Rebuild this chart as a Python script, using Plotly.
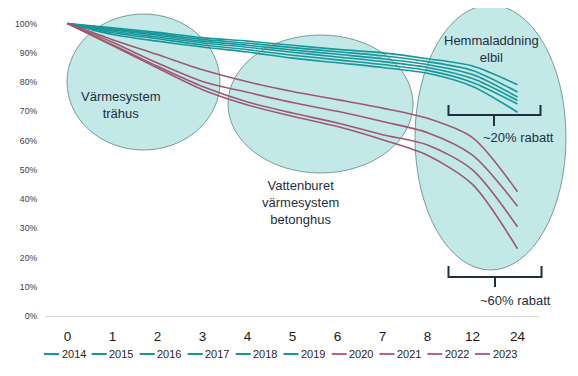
import plotly.graph_objects as go

# ---- data ----
x_labels = ["0", "1", "2", "3", "4", "5", "6", "7", "8", "12", "24"]
years = ["2014", "2015", "2016", "2017", "2018", "2019", "2020", "2021", "2022", "2023"]

v2014 = [100, 98.6, 97.0, 95.2, 94.0, 92.6, 91.2, 90.0, 88.0, 85.5, 79.1]
v2015 = [100, 98.2, 96.5, 94.6, 93.3, 91.8, 90.4, 89.0, 87.0, 84.0, 76.6]
v2016 = [100, 97.8, 96.0, 94.0, 92.6, 91.0, 89.5, 88.0, 86.0, 82.6, 74.9]
v2017 = [100, 97.4, 95.4, 93.4, 91.9, 90.2, 88.6, 87.0, 85.0, 81.2, 73.7]
v2018 = [100, 96.9, 94.8, 92.7, 91.1, 89.2, 87.6, 86.0, 84.0, 79.9, 72.5]
v2019 = [100, 96.3, 94.0, 92.0, 90.3, 88.2, 86.6, 85.0, 83.0, 78.5, 69.7]
v2020 = [100, 94.5, 89.4, 84.2, 80.1, 76.8, 74.0, 71.1, 67.6, 61.0, 42.5]
v2021 = [100, 93.6, 86.5, 80.2, 76.5, 73.0, 70.0, 66.5, 62.7, 55.0, 37.5]
v2022 = [100, 92.8, 85.4, 78.5, 73.2, 69.4, 66.0, 62.0, 58.5, 50.0, 30.5]
v2023 = [100, 92.5, 84.8, 77.4, 72.2, 68.3, 64.8, 60.3, 55.0, 45.0, 23.0]
series = [v2014, v2015, v2016, v2017, v2018, v2019, v2020, v2021, v2022, v2023]

y_ticks = [0, 10, 20, 30, 40, 50, 60, 70, 80, 90, 100]

TEAL = "#17979a"
MAUVE_LINE = "#9e5870"
MAUVE_LEG = "#c0607c"
TEXT = "#1f2f40"
FONT = "Liberation Sans, Arial, sans-serif"

OFF = 8  # page body margin
W, H = 570, 368
ML, MR, MT, MB = 37, 38, 1, 60
PW, PH = W - ML - MR, H - MT - MB


def px(x):
    return (x - OFF - ML) / PW


def py(y):
    return (H - MB - (y - OFF)) / PH


fig = go.Figure()
for name, vals in zip(years, series):
    col = TEAL if int(name) < 2020 else MAUVE_LINE
    fig.add_trace(go.Scatter(
        x=x_labels, y=vals, mode="lines", name=name, showlegend=False,
        line=dict(color=col, width=1.6, shape="spline", smoothing=0.8),
    ))

shapes = []
# ellipses (decoration)
for (x0, y0, x1, y1) in [(67, 14, 220, 150), (228, 35, 413, 173), (415, 5, 566, 270)]:
    shapes.append(dict(type="circle", xref="paper", yref="paper",
                       x0=px(x0), x1=px(x1), y0=py(y1), y1=py(y0),
                       fillcolor="#c3e8e8", line=dict(color="#5e8486", width=0.8),
                       layer="below"))


def brace(xl, xr, ytop, ybot, xm, ytip):
    return (f"M {px(xl)},{py(ytop)} L {px(xl)},{py(ybot)} L {px(xr)},{py(ybot)} "
            f"L {px(xr)},{py(ytop)} M {px(xm)},{py(ybot)} L {px(xm)},{py(ytip)}")


shapes.append(dict(type="path", xref="paper", yref="paper",
                   path=brace(448.5, 540.5, 105, 115, 494, 126),
                   line=dict(color=TEXT, width=2)))
shapes.append(dict(type="path", xref="paper", yref="paper",
                   path=brace(448.5, 541.5, 266, 277, 495, 287),
                   line=dict(color=TEXT, width=2)))

annotations = [
    dict(text="Värmesystem<br>trähus", x=px(120), y=py(105)),
    dict(text="Vattenburet<br>värmesystem<br>betonghus", x=px(300), y=py(202)),
    dict(text="Hemmaladdning<br>elbil", x=px(491), y=py(49)),
    dict(text="~20% rabatt", x=px(518), y=py(137)),
    dict(text="~60% rabatt", x=px(515.5), y=py(300)),
]
for a in annotations:
    a.update(xref="paper", yref="paper", showarrow=False, xanchor="center", yanchor="middle",
             font=dict(family=FONT, size=13, color=TEXT))

# custom compact legend
leg_x = [44, 91.7, 139.7, 187.7, 235.7, 283.5, 331.7, 379.5, 427.3, 475]
leg_y = 354
for name, lx in zip(years, leg_x):
    col = TEAL if int(name) < 2020 else MAUVE_LEG
    shapes.append(dict(type="line", xref="paper", yref="paper",
                       x0=px(lx), x1=px(lx + 15), y0=py(leg_y), y1=py(leg_y),
                       line=dict(color=col, width=2)))
    annotations.append(dict(text=name, xref="paper", yref="paper", x=px(lx + 15.5), y=py(leg_y),
                            xanchor="left", yanchor="middle", showarrow=False,
                            font=dict(family=FONT, size=11, color="#262626")))

fig.update_layout(
    width=W, height=H,
    margin=dict(l=ML, r=MR, t=MT, b=MB),
    paper_bgcolor="white", plot_bgcolor="white",
    showlegend=False,
    shapes=shapes, annotations=annotations,
    font=dict(family=FONT),
    xaxis=dict(type="category", categoryorder="array", categoryarray=x_labels,
               range=[-0.5, len(x_labels) - 0.5],
               showgrid=False, zeroline=False, showline=True, linecolor="#d9d9d9", linewidth=1,
               ticks="outside", ticklen=8, tickcolor="rgba(0,0,0,0)",
               tickfont=dict(family=FONT, size=13.5, color="#1a1a1a")),
    yaxis=dict(range=[0, 105], tickvals=y_ticks, ticktext=[f"{t}%" for t in y_ticks],
               showgrid=False, zeroline=False, showline=False,
               ticks="outside", ticklen=5, tickcolor="rgba(0,0,0,0)",
               tickfont=dict(family=FONT, size=8.7, color="#404040")),
)

fig.write_html("out.html")
